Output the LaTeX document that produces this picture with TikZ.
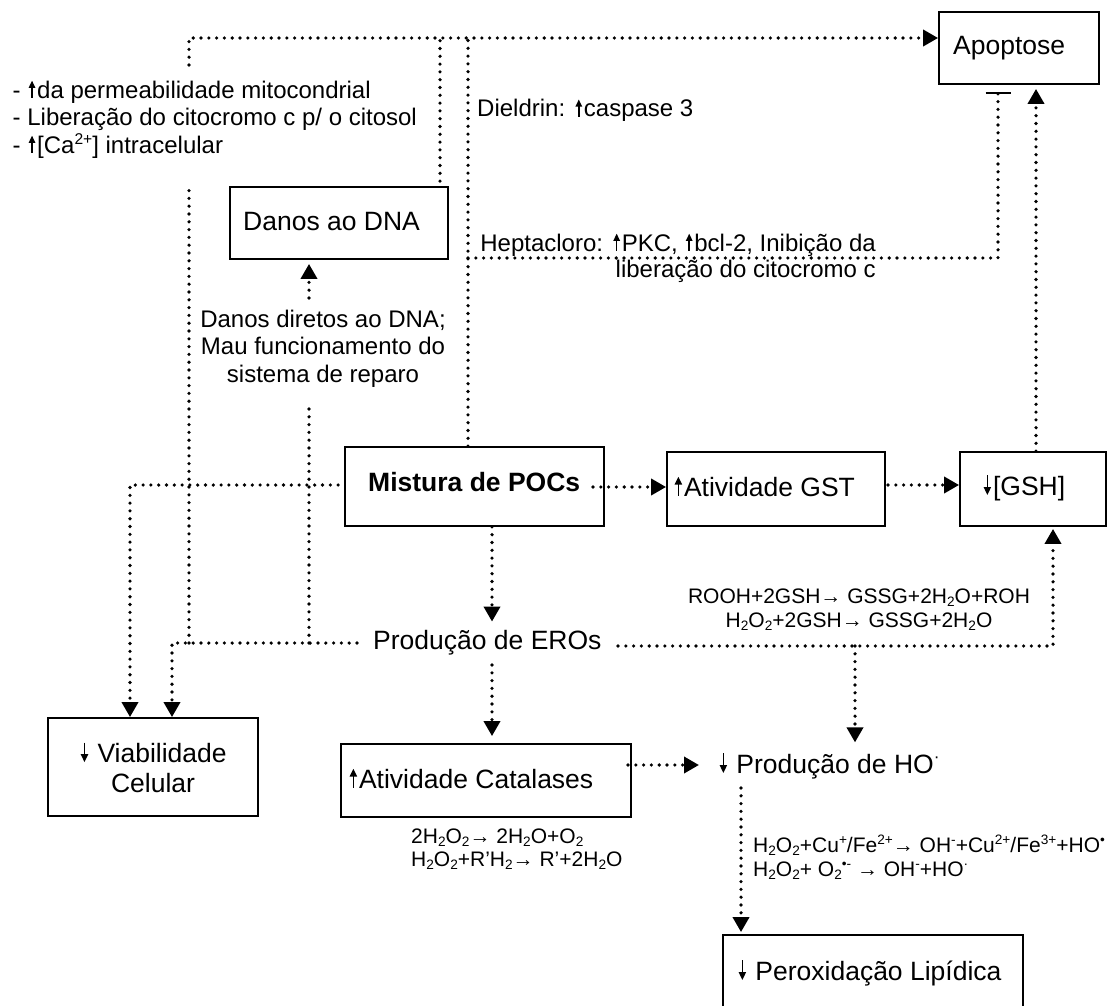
\documentclass[tikz,border=0pt]{standalone}
\usepackage{fontspec}
\usepackage{graphicx}
\setmainfont{Liberation Sans}
\usetikzlibrary{arrows.meta,calc}
\newcommand\mysup[1]{\raisebox{0.38em}{\scalebox{0.65}{#1}}}
\newcommand\mysub[1]{\raisebox{-0.14em}{\scalebox{0.65}{#1}}}
\newcommand\topstrut{\rule{0pt}{0.9em}}
\newcommand\myup{\hspace{0.06em}\tikz[baseline=0pt]{\draw[line width=0.06em,-{Triangle[length=0.3em,width=0.27em]}] (0,0.01em) -- (0,0.73em);}\hspace{0.08em}}
\newcommand\mydn{\hspace{0.06em}\tikz[baseline=0pt]{\draw[line width=0.06em,-{Triangle[length=0.3em,width=0.27em]}] (0,0.74em) -- (0,0em);}\hspace{0.08em}}
\begin{document}
\begin{tikzpicture}[x=1pt,y=-1pt,
  box/.style={draw,line width=1.8pt,inner sep=0pt},
  big/.style={inner sep=0pt,font=\fontsize{26.5}{30.5}\selectfont},
  bigb/.style={inner sep=0pt,font=\fontsize{26.5}{30.5}\selectfont\bfseries},
  lbl/.style={inner sep=0pt,font=\fontsize{24}{27.5}\selectfont},
  eqn/.style={inner sep=0pt,font=\fontsize{21}{24.2}\selectfont},
  dots/.style={line width=3.6pt,line cap=round,dash pattern=on 0pt off 7.8pt},
  arr/.style={dots,-{Triangle[length=15pt,width=16pt]}},
  inhib/.style={dots,-{Bar[width=25pt,line width=1.8pt]}},
  ]
\useasboundingbox (0,0) rectangle (1111,1006);
\clip (0,0) rectangle (1111,1006);

% ---------- boxes
\node[box,minimum width=160pt,minimum height=72pt] (apop) at (1019,48) {};
\node[box,minimum width=218pt,minimum height=72pt] (danos) at (339,223) {};
\node[box,minimum width=259pt,minimum height=79pt] (mist) at (474.5,486.5) {};
\node[box,minimum width=218pt,minimum height=74pt] (gst) at (776,489) {};
\node[box,minimum width=146pt,minimum height=74pt] (gsh) at (1033,489) {};
\node[box,minimum width=210pt,minimum height=98pt] (viab) at (153,767) {};
\node[box,minimum width=290pt,minimum height=73pt] (cat) at (486,780.5) {};
\node[box,minimum width=300pt,minimum height=100pt] (perox) at (873,985) {};

% ---------- box texts
\node[big,anchor=base west] (apoptxt) at (953,55) {Apoptose};
\node[big,anchor=base west] (danostxt) at (243,230) {Danos ao DNA};
\node[bigb,anchor=base west] (misttxt) at (368,491) {Mistura de POCs};
\node[big,anchor=base west] (gsttxt) at (673,496) {\myup Atividade GST};
\node[big,anchor=base west] (gshtxt) at (982,495) {\mydn[GSH]};
\node[big,align=center] (viabtxt) at (153,767.3) {\mydn\ Viabilidade\\Celular};
\node[big,anchor=base west] (cattxt) at (348,788) {\myup Atividade Catalases};
\node[big,anchor=base west] (peroxtxt) at (737,980) {\mydn\ Peroxidação Lipídica};

% ---------- free texts
\node[big,anchor=base west] (eros) at (373,649) {Produção de EROs};
\node[big,anchor=base west] (ho) at (718,773) {\mydn\ Produção de HO\mysup{·}};

\node[lbl,anchor=north west,align=left] (mito) at (12.5,76.4)
  {\topstrut- \myup da permeabilidade mitocondrial\\- Liberação do citocromo c p/ o citosol\\- \myup[Ca\mysup{2+}] intracelular};
\node[lbl,anchor=base west] (diel) at (477,117) {Dieldrin: \myup caspase 3};
\node[lbl,anchor=north east,align=right,font=\fontsize{24}{26.5}\selectfont] (hepta) at (876,229.4)
  {\topstrut Heptacloro: \myup PKC, \myup bcl-2, Inibição da\\liberação do citocromo c};
\node[lbl,anchor=north,align=center] (direto) at (323,305.4)
  {\topstrut Danos diretos ao DNA;\\Mau funcionamento do\\sistema de reparo};

\node[eqn,anchor=north,align=center] (gsheq) at (859,584.1)
  {\topstrut ROOH+2GSH→ GSSG+2H\mysub{2}O+ROH\\H\mysub{2}O\mysub{2}+2GSH→ GSSG+2H\mysub{2}O};
\node[eqn,anchor=north west,align=left,font=\fontsize{21}{23}\selectfont] (cateq) at (411,824.1)
  {\topstrut 2H\mysub{2}O\mysub{2}→ 2H\mysub{2}O+O\mysub{2}\\H\mysub{2}O\mysub{2}+R’H\mysub{2}→ R’+2H\mysub{2}O};
\node[eqn,anchor=north west,align=left] (hoeq) at (753,833.1)
  {\topstrut H\mysub{2}O\mysub{2}+Cu\mysup{+}/Fe\mysup{2+}→ OH\mysup{-}+Cu\mysup{2+}/Fe\mysup{3+}+HO\mysup{•}\\H\mysub{2}O\mysub{2}+ O\mysub{2}\mysup{•-} → OH\mysup{-}+HO\mysup{·}};

% ---------- coordinates for connector bends
\coordinate (tl) at (189,38);
\coordinate (eL) at (357,643);
\coordinate (v1) at (130,485);
\coordinate (v2) at (172,643);
\coordinate (x1) at (189,643);
\coordinate (x2) at (309,643);
\coordinate (c1) at (309,298);
\coordinate (dl) at (468,38);
\coordinate (fl) at (440,38);
\coordinate (g1) at (468,258);
\coordinate (g2) at (998,258);
\coordinate (h1) at (1036,452);
\coordinate (i1) at (593,487);
\coordinate (j1) at (888,485);
\coordinate (k1) at (492,526);
\coordinate (l1) at (618,646);
\coordinate (l2) at (1053,646);
\coordinate (m1) at (855,646);
\coordinate (n1) at (492,665);
\coordinate (o1) at (628,765);
\coordinate (p1) at (741,788);

% ---------- connectors
% Producao de EROs -> Viabilidade
\draw[arr] (eL) -- (v2) -- (v2 |- viab.north);
% Mistura -> Viabilidade
\draw[arr] ($(mist.west |- v1)+(-6,0)$) -- (v1) -- (v1 |- viab.north);
% EROs -> Apoptose (mitocondrial)
\draw[dots] (x1) -- (189,187);
\draw[arr] (189,65) -- (tl) -- (tl -| apop.west);
% EROs -> Danos ao DNA
\draw[dots] (x2) -- (309,402);
\draw[arr] (c1) -- ($(c1 |- danos.south)+(0,4)$);
% Mistura -> Apoptose (Dieldrin)
\draw[dots] (dl |- mist.north) -- (dl);
% Danos ao DNA -> Apoptose
\draw[dots] ($(fl |- danos.north)+(0,-5)$) -- (fl);
% Heptacloro inhibition
\draw[inhib] (g1) -- (g2) -- ($(g2 |- apop.south)+(0,7)$);
% GSH -> Apoptose
\draw[arr] (h1 |- gsh.north) -- ($(h1 |- apop.south)+(0,4)$);
% Mistura -> GST -> GSH
\draw[arr] (i1) -- (i1 -| gst.west);
\draw[arr] (j1) -- (j1 -| gsh.west);
% Mistura -> EROs
\draw[arr] (k1 |- mist.south) -- ($(k1 |- eros.north)+(0,-8)$);
% EROs -> GSH
\draw[arr] (l1) -- (l2) -- ($(l2 |- gsh.south)+(0,2)$);
% EROs -> HO
\draw[arr] (m1) -- ($(m1 |- ho.north)+(0,-10)$);
% EROs -> Catalases
\draw[arr] (n1) -- ($(n1 |- cat.north)+(0,-7)$);
% Catalases -> HO
\draw[arr] (o1) -- ($(o1 -| ho.west)+(-19,0)$);
% HO -> Peroxidacao
\draw[arr] (p1) -- ($(p1 |- perox.north)+(0,-2)$);
\end{tikzpicture}
\end{document}
